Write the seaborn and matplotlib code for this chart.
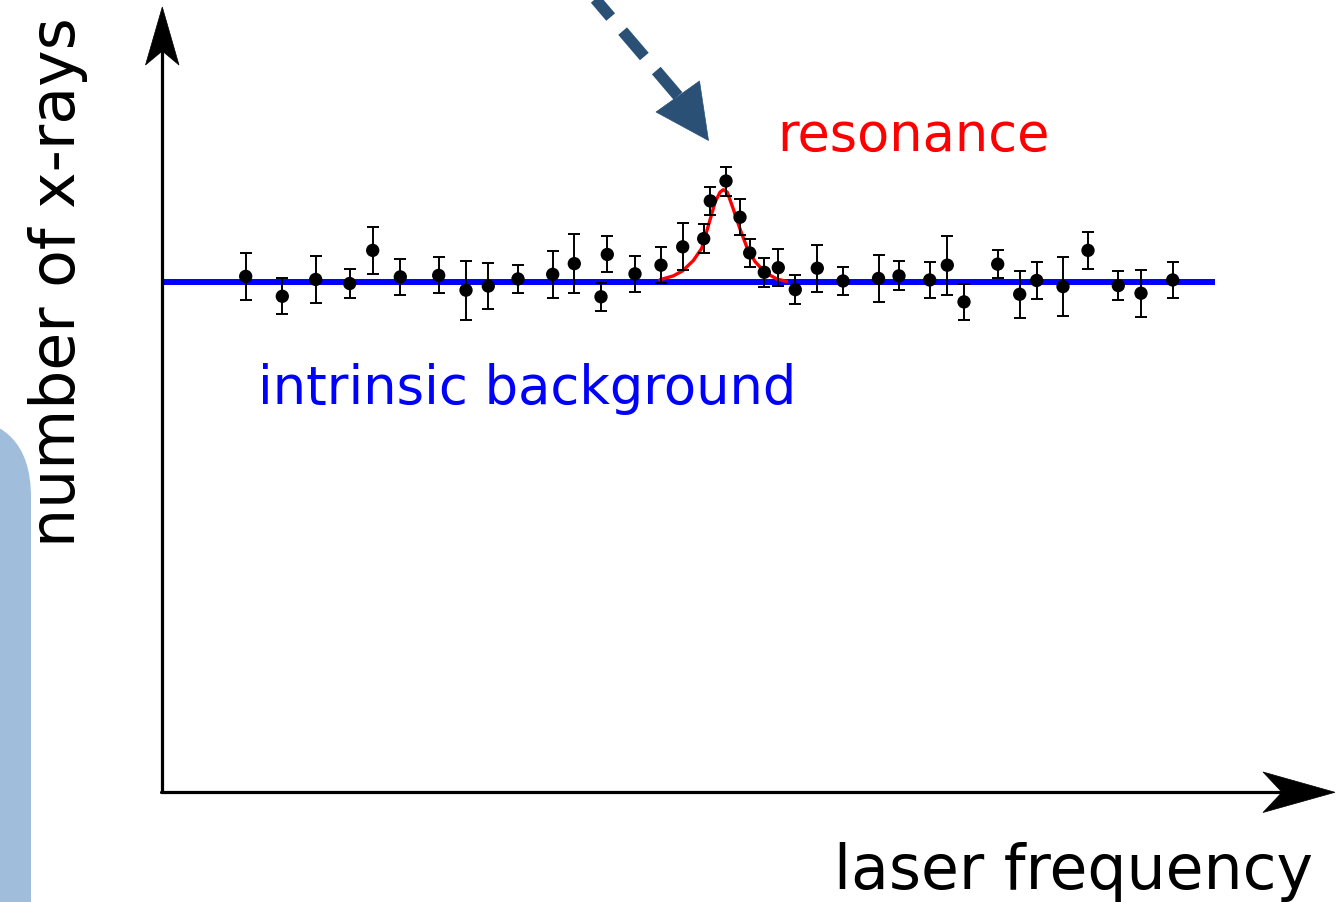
import numpy as np
import pandas as pd
import matplotlib
matplotlib.use("Agg")
import matplotlib.pyplot as plt
import seaborn as sns
from matplotlib.patches import Polygon, FancyBboxPatch
from matplotlib.lines import Line2D
from matplotlib.transforms import IdentityTransform

# ---------------- data (arbitrary units) ----------------
freq = [8.37, 12.03, 15.37, 18.77, 21.07, 23.83, 27.67, 30.4, 32.63, 35.6,
        39.07, 41.23, 43.9, 44.53, 47.3, 49.9, 52.07, 54.17, 54.83, 56.4,
        57.8, 58.77, 60.23, 61.63, 63.33, 65.53, 68.1, 71.65, 73.7, 76.77,
        78.53, 80.2, 83.57, 85.77, 87.47, 90.1, 92.6, 95.63, 97.9, 101.07]
counts = [101.1, 97.2, 100.5, 99.7, 106.2, 101.0, 101.3, 98.4, 99.2, 100.6,
          101.5, 103.6, 97.1, 105.4, 101.6, 103.3, 106.9, 108.5, 115.9, 119.8,
          112.7, 105.7, 101.9, 102.8, 98.5, 102.7, 100.2, 100.7, 101.2, 100.4,
          103.3, 96.1, 103.5, 97.6, 100.3, 99.1, 106.2, 99.3, 97.8, 100.4]
count_err = [4.58, 3.57, 4.58, 2.87, 4.61, 3.56, 3.53, 5.81, 4.54, 2.81,
             4.58, 5.78, 2.80, 3.53, 3.53, 3.53, 4.61, 2.81, 2.72, 2.84,
             3.56, 2.80, 2.81, 3.59, 2.78, 4.61, 2.80, 4.61, 2.84, 3.59,
             5.78, 3.53, 2.81, 4.61, 3.56, 5.75, 3.57, 2.80, 4.61, 3.59]

background_freq = [0.0, 105.3]
background_level = [100.0, 100.0]

resonance_freq = [49.8, 51.13, 52.07, 53.13, 53.97, 54.63, 55.3, 55.8, 56.13,
                  56.53, 57.13, 57.8, 58.47, 59.3, 60.3, 61.47, 62.47]
resonance_counts = [100.45, 101.2, 102.2, 104.2, 106.6, 111.0, 115.6, 117.6, 118.1,
                    117.6, 114.3, 110.4, 106.9, 104.0, 101.9, 100.6, 100.1]

x_label = "laser frequency"
y_label = "number of x-rays"
bg_label = "intrinsic background"
res_label = "resonance"

# ---------------- figure ----------------
sns.set_style("white")
plt.rcParams["font.family"] = ["DejaVu Sans"]

W, H = 1337, 903
fig = plt.figure(figsize=(W / 100, H / 100), dpi=100)
fig.patch.set_facecolor("white")

def px(x, y):
    """image pixel coords (origin top-left) -> display coords"""
    return (x, H - y)

ident = IdentityTransform()

# light blue rounded panel at the left edge
panel = FancyBboxPatch(px(-300, 1100), 331, 1100 - 418,
                       boxstyle="round,pad=0,rounding_size=80",
                       transform=ident, facecolor="#a0bedc", edgecolor="none",
                       zorder=0)
fig.patches.append(panel)

ax = fig.add_axes([162 / W, (H - 793) / H, (1335 - 162) / W, (793 - 8) / H])
ax.set_xlim(0, 117.3)
ax.set_ylim(0, 785 / 5.1)
ax.axis("off")
ax.patch.set_alpha(0)

bg = pd.DataFrame({"freq": background_freq, "counts": background_level})
sns.lineplot(data=bg, x="freq", y="counts", ax=ax, color="#0000ff", lw=4.3,
             zorder=2, solid_capstyle="butt")

res = pd.DataFrame({"freq": resonance_freq, "counts": resonance_counts})
sns.lineplot(data=res, x="freq", y="counts", ax=ax, color="#ff0000", lw=2.4,
             zorder=3, sort=False)

ax.errorbar(freq, counts, yerr=count_err, fmt="none", ecolor="black",
            elinewidth=1.4, capsize=4, capthick=1.4, zorder=4)
pts = pd.DataFrame({"freq": freq, "counts": counts})
sns.scatterplot(data=pts, x="freq", y="counts", ax=ax, color="black", s=92,
                edgecolor="none", zorder=5)
ax.set_xlabel("")
ax.set_ylabel("")

# ---------------- axis arrows ----------------
fig.lines.append(Line2D([px(162, 793)[0], px(162, 50)[0]],
                        [px(162, 793)[1], px(162, 50)[1]],
                        transform=ident, color="black", lw=2.3, zorder=6))
fig.lines.append(Line2D([px(161, 793)[0], px(1285, 793)[0]],
                        [px(161, 793)[1], px(1285, 793)[1]],
                        transform=ident, color="black", lw=2.3, zorder=6))
yhead = Polygon([px(162.3, 8), px(179, 66), px(162.3, 52), px(145.5, 66)],
                closed=True, transform=ident, facecolor="black",
                edgecolor="black", lw=0.5, zorder=7)
xhead = Polygon([px(1335, 793.3), px(1263, 813.5), px(1282, 793.3), px(1263, 773)],
                closed=True, transform=ident, facecolor="black",
                edgecolor="black", lw=0.5, zorder=7)
fig.patches.extend([yhead, xhead])

# ---------------- dashed pointer arrow ----------------
arrow_col = "#2a5076"
x0, y0 = px(678, 97)
x1, y1 = px(585, -12)
dash = Line2D([x0, x1], [y0, y1], transform=ident, color=arrow_col, lw=8.3,
              dashes=(2.9, 1.6), solid_capstyle="butt", dash_capstyle="butt",
              zorder=6)
fig.lines.append(dash)
head = Polygon([px(656, 113), px(699.5, 82), px(708.5, 141.5)], closed=True,
               transform=ident, facecolor=arrow_col, edgecolor=arrow_col,
               lw=0.5, zorder=7)
fig.patches.append(head)

# ---------------- texts ----------------
fig.text(777 / W, 1 - 151 / H, res_label, color="#ff0000", fontsize=37.9,
         ha="left", va="baseline")
fig.text(258 / W, 1 - 404 / H, bg_label, color="#0000ff", fontsize=38,
         ha="left", va="baseline")
fig.text(834 / W, 1 - 889 / H, x_label, color="black", fontsize=44.4,
         ha="left", va="baseline")
fig.text(75 / W, 1 - 547 / H, y_label, color="black", fontsize=44.4,
         rotation=90, rotation_mode="anchor", ha="left", va="baseline")

fig.savefig("out.png", dpi=100, facecolor="white")
